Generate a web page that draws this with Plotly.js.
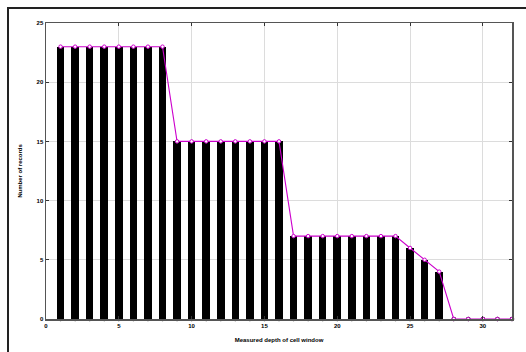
<!DOCTYPE html>
<html>
<head>
<meta charset="utf-8">
<script src="https://cdn.plot.ly/plotly-3.0.1.min.js"></script>
<style>html,body{margin:0;padding:0;background:#fff;overflow:hidden}#wrap{position:relative;width:526px;height:352px}#chart{width:526px;height:352px}#frame{position:absolute;left:7px;top:7px;width:700px;height:500px;border:2px solid #222;pointer-events:none}</style>
</head>
<body>
<div id="wrap"><div id="chart"></div><div id="frame"></div></div>
<script>
const positions = [1,2,3,4,5,6,7,8,9,10,11,12,13,14,15,16,17,18,19,20,21,22,23,24,25,26,27,28,29,30,31,32];
const counts = [23,23,23,23,23,23,23,23,15,15,15,15,15,15,15,15,7,7,7,7,7,7,7,7,6,5,4,0,0,0,0,0];
const zeros = positions.map(() => 0);
const xTicks = [0,5,10,15,20,25,30];
const yTicks = [0,5,10,15,20,25];
const xTitle = 'Measured depth of cell window';
const yTitle = 'Number of records';

const tickFont = {family: 'Liberation Sans, Arial, sans-serif', size: 6, color: '#000'};

const traces = [
  {type: 'bar', x: positions, y: counts, width: 0.52,
   marker: {color: '#000', line: {width: 0}}, hoverinfo: 'x+y', showlegend: false},
  {type: 'scatter', mode: 'markers', x: positions, y: zeros, cliponaxis: false,
   marker: {color: '#000', size: 4.5, symbol: 'circle'}, showlegend: false},
  {type: 'scatter', mode: 'lines+markers', x: positions, y: counts, cliponaxis: false,
   line: {color: '#cc00cc', width: 1.1},
   marker: {color: '#fff', size: 3.5, symbol: 'circle', line: {color: '#cc00cc', width: 1}},
   showlegend: false}
];

const layout = {
  width: 526, height: 352,
  margin: {l: 46, r: 14, t: 23, b: 33},
  paper_bgcolor: '#fff', plot_bgcolor: '#fff',
  bargap: 0,
  xaxis: {range: [0, 32], tickvals: xTicks, ticktext: xTicks.map(v => '<b>' + v + '</b>'),
    showgrid: true, gridcolor: '#dcdcdc', gridwidth: 1, zeroline: false,
    showline: true, linecolor: '#555', linewidth: 1.5, mirror: 'ticks',
    ticks: 'inside', ticklen: 3, tickcolor: '#333', tickfont: tickFont,
    title: {text: '<b>' + xTitle + '</b>', font: {family: 'Liberation Sans, Arial, sans-serif', size: 6, color: '#000'}, standoff: 10}},
  yaxis: {range: [0, 25], tickvals: yTicks, ticktext: yTicks.map(v => '<b>' + v + '</b>'),
    showgrid: true, gridcolor: '#dcdcdc', gridwidth: 1, zeroline: false,
    showline: true, linecolor: '#555', linewidth: 1.5, mirror: 'ticks',
    ticks: 'inside', ticklen: 3, tickcolor: '#333', tickfont: tickFont,
    title: {text: '<b>' + yTitle + '</b>', font: {family: 'Liberation Sans, Arial, sans-serif', size: 6, color: '#000'}, standoff: 13}}
};

Plotly.newPlot('chart', traces, layout, {displayModeBar: false, staticPlot: true});
</script>
</body>
</html>
